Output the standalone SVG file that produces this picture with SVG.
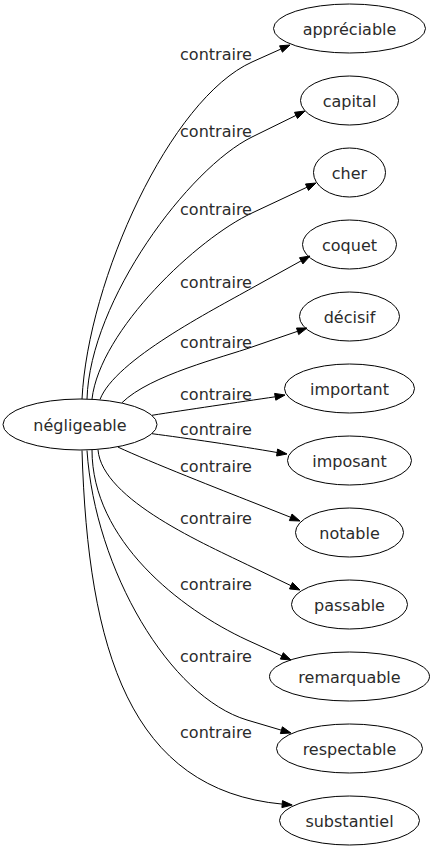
<svg xmlns="http://www.w3.org/2000/svg" width="433" height="851" viewBox="0 0 433 851">
<style>
.n ellipse{fill:none;stroke:#000;stroke-width:1}
text{font-family:"DejaVu Sans",sans-serif;font-size:16px;fill:#2b2b2b;text-anchor:middle}
.e path{fill:none;stroke:#000;stroke-width:1}
.e polygon{fill:#000;stroke:#000;stroke-width:1}
</style>
<rect width="433" height="851" fill="#fff"/>
<g id="connectors" class="e">
<path d="M82,399 C88,280 170,99 252,62 L281,49"/>
<polygon points="290,45 282.4,52.2 279.6,45.8"/>
<path d="M87,399 C90,300 189,168 252,137 L296,115.4"/>
<polygon points="305,111 297.5,118.5 294.5,112.3"/>
<path d="M92,399 C100,330 198,238 252,213 L307,187.2"/>
<polygon points="316,183 308.5,190.4 305.5,184"/>
<path d="M100,399.5 C115,360 213,310 252,288 L301.2,260.8"/>
<polygon points="310,256 302.9,263.9 299.5,257.7"/>
<path d="M122,402.7 C150,375 224,357 252,347 L297.6,331.3"/>
<polygon points="307,328 298.7,334.6 296.5,328"/>
<path d="M152,415.3 C185,410 240,402 275.2,396.8"/>
<polygon points="285,395 275.8,400.2 274.6,393.4"/>
<path d="M152,433.7 C185,438 240,446 277.1,452.5"/>
<polygon points="287,454 276.6,456 277.6,449"/>
<path d="M118,447.1 C150,462 224,491 252,502 L290.7,517.3"/>
<polygon points="300,521 289.4,520.6 292,514"/>
<path d="M98,449.8 C102,500 207,545 252,567 L291,585.7"/>
<polygon points="300,590 289.5,588.9 292.5,582.5"/>
<path d="M92,450 C92,540 180,609 247,640 L281.9,655.9"/>
<polygon points="291,660 280.4,659.1 283.3,652.7"/>
<path d="M87,450.5 C95,570 170,697 247,720 L281.4,730.2"/>
<polygon points="291,733 280.4,733.6 282.4,726.8"/>
<path d="M82,450.5 C88,650 130,790 282.2,804.1"/>
<polygon points="292.2,805 281.9,807.6 282.5,800.6"/>
</g>
<g id="labels">
<text x="216" y="60">contraire</text>
<text x="216" y="137">contraire</text>
<text x="216" y="215">contraire</text>
<text x="216" y="288">contraire</text>
<text x="216" y="348">contraire</text>
<text x="216" y="400">contraire</text>
<text x="216" y="435">contraire</text>
<text x="216" y="472">contraire</text>
<text x="216" y="524">contraire</text>
<text x="216" y="590">contraire</text>
<text x="216" y="662">contraire</text>
<text x="216" y="738">contraire</text>
</g>
<g id="n-negligeable" class="n"><ellipse cx="80" cy="424.5" rx="77" ry="25.5"/><text x="80" y="430.5">négligeable</text></g>
<g id="n-appreciable" class="n"><ellipse cx="349.5" cy="28.5" rx="76" ry="24.5"/><text x="349.5" y="34.5">appréciable</text></g>
<g id="n-capital" class="n"><ellipse cx="349.5" cy="100.5" rx="49" ry="24.5"/><text x="349.5" y="106.5">capital</text></g>
<g id="n-cher" class="n"><ellipse cx="349.5" cy="172.5" rx="36" ry="24.5"/><text x="349.5" y="178.5">cher</text></g>
<g id="n-coquet" class="n"><ellipse cx="349.5" cy="244.5" rx="47" ry="24.5"/><text x="349.5" y="250.5">coquet</text></g>
<g id="n-decisif" class="n"><ellipse cx="349.5" cy="316.5" rx="50" ry="24.5"/><text x="349.5" y="322.5">décisif</text></g>
<g id="n-important" class="n"><ellipse cx="349.5" cy="388.5" rx="65" ry="24.5"/><text x="349.5" y="394.5">important</text></g>
<g id="n-imposant" class="n"><ellipse cx="349.5" cy="460.5" rx="62" ry="24.5"/><text x="349.5" y="466.5">imposant</text></g>
<g id="n-notable" class="n"><ellipse cx="349.5" cy="532.5" rx="54" ry="24.5"/><text x="349.5" y="538.5">notable</text></g>
<g id="n-passable" class="n"><ellipse cx="349.5" cy="604.5" rx="58" ry="24.5"/><text x="349.5" y="610.5">passable</text></g>
<g id="n-remarquable" class="n"><ellipse cx="349.5" cy="676.5" rx="80" ry="24.5"/><text x="349.5" y="682.5">remarquable</text></g>
<g id="n-respectable" class="n"><ellipse cx="349.5" cy="748.5" rx="73" ry="24.5"/><text x="349.5" y="754.5">respectable</text></g>
<g id="n-substantiel" class="n"><ellipse cx="349.5" cy="820.5" rx="70" ry="24.5"/><text x="349.5" y="826.5">substantiel</text></g>
</svg>
